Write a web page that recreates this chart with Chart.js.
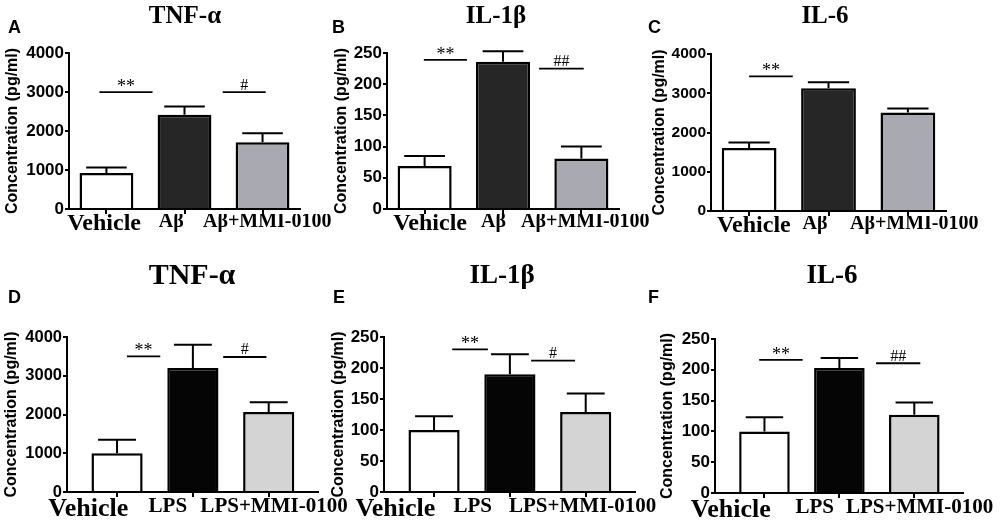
<!DOCTYPE html>
<html>
<head>
<meta charset="utf-8">
<script src="https://cdn.jsdelivr.net/npm/chart.js@4.4.1/dist/chart.umd.min.js"></script>
<style>
html,body{margin:0;padding:0;background:#fff;}
#wrap{position:relative;width:1005px;height:522px;overflow:hidden;background:#fff;}
#wrap canvas{position:absolute;left:0;top:0;}
</style>
</head>
<body>
<div id="wrap">
<canvas id="cA" width="1005" height="522"></canvas>
<canvas id="cB" width="1005" height="522"></canvas>
<canvas id="cC" width="1005" height="522"></canvas>
<canvas id="cD" width="1005" height="522"></canvas>
<canvas id="cE" width="1005" height="522"></canvas>
<canvas id="cF" width="1005" height="522"></canvas>
</div>
<script>
// ---------- DATA ----------
const groupsAbeta = ['Vehicle', 'Aβ', 'Aβ+MMI-0100'];
const groupsLps = ['Vehicle', 'LPS', 'LPS+MMI-0100'];

const yTicks4000 = [0, 1000, 2000, 3000, 4000];
const yTicks250 = [0, 50, 100, 150, 200, 250];

// Panel A: TNF-α (Aβ)
const tnfAbMean = [925, 2415, 1713];
const tnfAbSem = [137, 215, 231];
const sigTnfAb = [
  {from: -0.09, to: 0.59, y: 2998, text: '**'},
  {from: 1.49, to: 2.04, y: 2998, text: '#'}
];
// Panel B: IL-1β (Aβ)
const il1bAbMean = [69, 236, 81];
const il1bAbSem = [16, 17, 19];
const sigIl1bAb = [
  {from: -0.01, to: 0.54, y: 239, text: '**'},
  {from: 1.46, to: 2.03, y: 225, text: '##'}
];
// Panel C: IL-6 (Aβ)
const il6AbMean = [1603, 3130, 2507];
const il6AbSem = [145, 153, 103];
const sigIl6Ab = [
  {from: 0.0, to: 0.55, y: 3428, text: '**'}
];
// Panel D: TNF-α (LPS)
const tnfLpsMean = [1000, 3200, 2065];
const tnfLpsSem = [350, 602, 249];
const sigTnfLps = [
  {from: 0.13, to: 0.57, y: 3501, text: '**'},
  {from: 1.40, to: 1.97, y: 3484, text: '#'}
];
// Panel E: IL-1β (LPS)
const il1bLpsMean = [100, 190, 129];
const il1bLpsSem = [22, 32, 30];
const sigIl1bLps = [
  {from: 0.24, to: 0.71, y: 230, text: '**'},
  {from: 1.28, to: 1.86, y: 212, text: '#'}
];
// Panel F: IL-6 (LPS)
const il6LpsMean = [100, 203, 127];
const il6LpsSem = [23, 16, 20];
const sigIl6Lps = [
  {from: -0.07, to: 0.51, y: 216, text: '**'},
  {from: 1.49, to: 2.08, y: 210.6, text: '##'}
];

// ---------- STYLES / LAYOUT ----------
const SERIF = "'Liberation Serif', 'Times New Roman', serif";
const SANS = "'Liberation Sans', Arial, sans-serif";
const colorsTop = ['#ffffff', '#262626', '#a9a9b1'];
const colorsBottom = ['#ffffff', '#050505', '#d4d4d4'];

const rowTop = {xMin: -0.48, xMax: 2.48, barPct: 0.69, vehSize: 24, labSize: 20, labLH: 1.0, capHalf: 0.26};
const rowBottom = {xMin: -0.66, xMax: 2.65, barPct: 0.675, vehSize: 26, labSize: 21, labLH: 1.08, capHalf: 0.25};

const panels = [
  {id: 'cA', title: 'TNF-α', letter: 'A', groups: groupsAbeta, means: tnfAbMean, sems: tnfAbSem, sig: sigTnfAb, yTicks: yTicks4000, colors: colorsTop, row: rowTop,
   box: {left: 69, right: 300, top: 53, bottom: 209, yTitleX: 13, titleX: 185, titleY: 23, titleSize: 25, letterX: 8, letterY: 33, tickSize: 17, labelShift: [-0.03, -0.17, 0.06]}},
  {id: 'cB', title: 'IL-1β', letter: 'B', groups: groupsAbeta, means: il1bAbMean, sems: il1bAbSem, sig: sigIl1bAb, yTicks: yTicks250, colors: colorsTop, row: rowTop,
   box: {left: 387, right: 619, top: 53, bottom: 209, yTitleX: 342, titleX: 496, titleY: 23, titleSize: 25, letterX: 332, letterY: 33, tickSize: 17, labelShift: [0.07, -0.12, 0.05]}},
  {id: 'cC', title: 'IL-6', letter: 'C', groups: groupsAbeta, means: il6AbMean, sems: il6AbSem, sig: sigIl6Ab, yTicks: yTicks4000, colors: colorsTop, row: rowTop,
   box: {left: 711, right: 946, top: 54, bottom: 211, yTitleX: 660, titleX: 825, titleY: 23, titleSize: 25, letterX: 648, letterY: 33, tickSize: 15.5, labelShift: [0.06, -0.17, 0.08]}},
  {id: 'cD', title: 'TNF-α', letter: 'D', groups: groupsLps, means: tnfLpsMean, sems: tnfLpsSem, sig: sigTnfLps, yTicks: yTicks4000, colors: colorsBottom, row: rowBottom,
   box: {left: 67, right: 318, top: 337, bottom: 492, yTitleX: 12, titleX: 192, titleY: 284, titleSize: 30, letterX: 8, letterY: 303, tickSize: 16.5, labelShift: [-0.38, -0.33, 0.07]}},
  {id: 'cE', title: 'IL-1β', letter: 'E', groups: groupsLps, means: il1bLpsMean, sems: il1bLpsSem, sig: sigIl1bLps, yTicks: yTicks250, colors: colorsBottom, row: rowBottom,
   box: {left: 384, right: 635, top: 337, bottom: 492, yTitleX: 339, titleX: 502, titleY: 283, titleSize: 27, letterX: 333, letterY: 303, tickSize: 17, labelShift: [-0.51, -0.49, -0.04]}},
  {id: 'cF', title: 'IL-6', letter: 'F', groups: groupsLps, means: il6LpsMean, sems: il6LpsSem, sig: sigIl6Lps, yTicks: yTicks250, colors: colorsBottom, row: rowBottom,
   box: {left: 715, right: 963, top: 339, bottom: 493, yTitleX: 668, titleX: 832, titleY: 283, titleSize: 27, letterX: 648, letterY: 303, tickSize: 17, labelShift: [-0.45, -0.33, 0.07]}}
];

const W = 1005, H = 522, X_AXIS_H = 30, TICK_MARK = 5, Y_TITLE_LH = 1.2, Y_TITLE_SIZE = 16;

function annotPlugin(p) {
  return {
    id: 'annot' + p.letter,
    afterDatasetsDraw(chart) {
      const ctx = chart.ctx, x = chart.scales.x, y = chart.scales.y;
      ctx.save();
      ctx.strokeStyle = '#000';
      ctx.lineWidth = 2;
      const half = x.getPixelForValue(p.row.capHalf) - x.getPixelForValue(0);
      p.means.forEach((m, i) => {
        const px = x.getPixelForValue(i);
        const b = y.getPixelForValue(m);
        const t = y.getPixelForValue(m + p.sems[i]);
        ctx.beginPath();
        ctx.moveTo(px, b); ctx.lineTo(px, t);
        ctx.moveTo(px - half, t); ctx.lineTo(px + half, t);
        ctx.stroke();
      });
      ctx.lineWidth = 1.8;
      ctx.fillStyle = '#000';
      ctx.textAlign = 'center';
      ctx.textBaseline = 'alphabetic';
      p.sig.forEach(s => {
        const x0 = x.getPixelForValue(s.from), x1 = x.getPixelForValue(s.to), py = y.getPixelForValue(s.y);
        ctx.beginPath(); ctx.moveTo(x0, py); ctx.lineTo(x1, py); ctx.stroke();
        const isHash = s.text.charAt(0) === '#';
        ctx.font = (isHash ? '16px ' : '18px ') + SERIF;
        ctx.fillText(s.text, (x0 + x1) / 2, py - (isHash ? 2.5 : 0));
      });
      ctx.restore();
    },
    afterDraw(chart) {
      const ctx = chart.ctx, b = p.box;
      ctx.save();
      ctx.fillStyle = '#000';
      ctx.textBaseline = 'alphabetic';
      ctx.textAlign = 'center';
      ctx.font = 'bold ' + b.titleSize + 'px ' + SERIF;
      ctx.fillText(p.title, b.titleX, b.titleY);
      ctx.textAlign = 'left';
      ctx.font = 'bold 18px ' + SANS;
      ctx.fillText(p.letter, b.letterX, b.letterY);
      ctx.restore();
    }
  };
}

function makeChart(p) {
  const b = p.box, r = p.row;
  const padLeft = b.yTitleX - Y_TITLE_SIZE * Y_TITLE_LH / 2;
  return new Chart(document.getElementById(p.id), {
    type: 'bar',
    data: {
      datasets: [{
        data: p.means.map((v, i) => ({x: i, y: v})),
        backgroundColor: p.colors,
        borderColor: '#000',
        borderWidth: 2.5,
        borderSkipped: 'start',
        barPercentage: r.barPct,
        categoryPercentage: 1
      }]
    },
    options: {
      responsive: false,
      animation: false,
      events: [],
      layout: {padding: {left: padLeft, right: W - b.right, top: b.top, bottom: H - b.bottom - X_AXIS_H}},
      plugins: {legend: {display: false}, tooltip: {enabled: false}, title: {display: false}},
      scales: {
        x: {
          type: 'linear', position: 'bottom', weight: 0, min: r.xMin, max: r.xMax, offset: false,
          afterBuildTicks: (s) => { s.ticks = p.groups.map((g, i) => ({value: i})); },
          afterFit: (s) => { s.height = TICK_MARK; },
          grid: {offset: false, drawOnChartArea: false, drawTicks: true, tickLength: TICK_MARK, lineWidth: 2, color: '#000'},
          border: {display: true, color: '#000', width: 2},
          ticks: {display: false}
        },
        xLabels: {
          type: 'linear', position: 'bottom', axis: 'x', weight: 1, min: r.xMin, max: r.xMax, offset: false,
          afterBuildTicks: (s) => { s.ticks = p.groups.map((g, i) => ({value: i + b.labelShift[i]})); },
          afterFit: (s) => { s.height = X_AXIS_H - TICK_MARK; },
          grid: {display: false, drawTicks: false},
          border: {display: false},
          ticks: {
            autoSkip: false, maxRotation: 0, minRotation: 0, padding: -2, color: '#000',
            callback: (v, i) => p.groups[i],
            font: (c) => ({family: SERIF, weight: 'bold', size: c.index === 0 ? r.vehSize : r.labSize, lineHeight: r.labLH})
          }
        },
        y: {
          type: 'linear', min: p.yTicks[0], max: p.yTicks[p.yTicks.length - 1],
          afterBuildTicks: (s) => { s.ticks = p.yTicks.map(v => ({value: v})); },
          afterFit: (s) => { s.width = b.left - padLeft; },
          grid: {drawOnChartArea: false, drawTicks: true, tickLength: 4, lineWidth: 2, color: '#000'},
          border: {display: true, color: '#000', width: 2},
          ticks: {padding: 1, color: '#000', font: {family: SANS, weight: 'bold', size: b.tickSize},
                  callback: (v) => String(v)},
          title: {display: true, text: 'Concentration (pg/ml)', color: '#000', padding: 0,
                  font: {family: SANS, weight: 'bold', size: Y_TITLE_SIZE, lineHeight: Y_TITLE_LH}}
        }
      }
    },
    plugins: [annotPlugin(p)]
  });
}

panels.forEach(makeChart);
</script>
</body>
</html>
